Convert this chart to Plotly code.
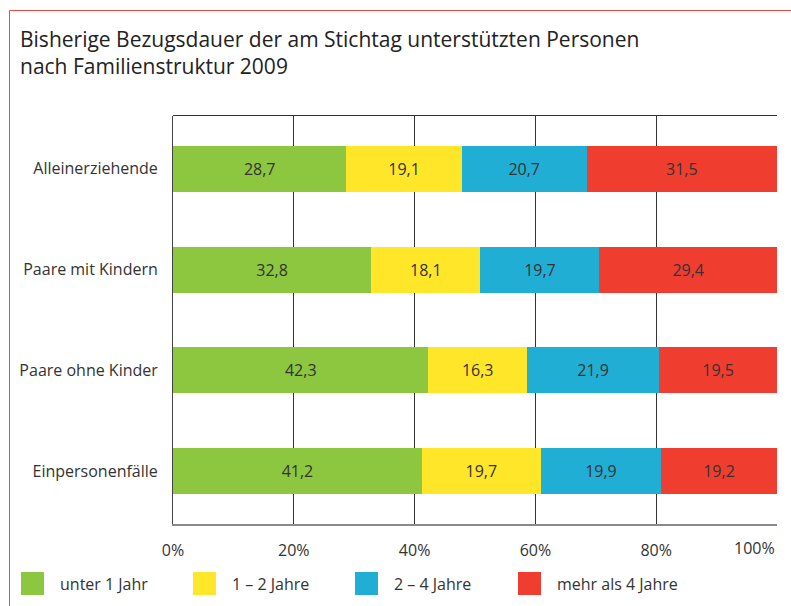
import plotly.graph_objects as go

categories = ["Alleinerziehende", "Paare mit Kindern", "Paare ohne Kinder", "Einpersonenfälle"]
series_names = ["unter 1 Jahr", "1 – 2 Jahre", "2 – 4 Jahre", "mehr als 4 Jahre"]
unter_1 = [28.7, 32.8, 42.3, 41.2]
jahre_1_2 = [19.1, 18.1, 16.3, 19.7]
jahre_2_4 = [20.7, 19.7, 21.9, 19.9]
mehr_4 = [31.5, 29.4, 19.5, 19.2]
tick_vals = [0, 20, 40, 60, 80, 100]
tick_text = ["0%", "20%", "40%", "60%", "80%", "100%"]

colors = ["#8dc63f", "#ffe629", "#21aed4", "#ef3e30"]
values = [unter_1, jahre_1_2, jahre_2_4, mehr_4]

W, H = 791, 606
L, R, T, B = 173, 14, 116, 82
pw, ph = W - L - R, H - T - B
FONT = "Open Sans"

fig = go.Figure()
for name, vals, col in zip(series_names, values, colors):
    fig.add_trace(go.Bar(
        y=categories, x=vals, name=name, orientation="h",
        marker=dict(color=col, line=dict(width=0)),
        width=0.455,
        text=vals, texttemplate="%{x:.1f}", textposition="inside",
        insidetextanchor="middle",
        textfont=dict(color="#333333", size=16),
        hoverinfo="x+y+name",
        showlegend=False,
    ))

# legend built by hand: colour squares + labels below the axis
legend_sq_x = [21, 193, 355, 518]
shapes = []
annotations = []
for sx, name, col in zip(legend_sq_x, series_names, colors):
    shapes.append(dict(type="rect", xref="paper", yref="paper",
                       x0=(sx - L) / pw, x1=(sx + 23 - L) / pw,
                       y0=(T + ph - 595) / ph, y1=(T + ph - 572) / ph,
                       fillcolor=col, line=dict(width=0)))
    annotations.append(dict(xref="paper", yref="paper",
                            x=(sx + 37 - L) / pw, xanchor="left",
                            y=(T + ph - 583.5) / ph, yanchor="middle",
                            text=name, showarrow=False,
                            font=dict(size=16, color="#333333")))

# 100% label sits flush right with the axis end
annotations.append(dict(xref="x", yref="paper", x=tick_vals[-1], xanchor="right",
                        y=(T + ph - 548) / ph, yanchor="middle",
                        text=tick_text[-1], showarrow=False,
                        font=dict(size=16, color="#333333")))

shapes += [
    # top frame line of plot area
    dict(type="line", xref="paper", yref="paper", x0=0, x1=1,
         y0=1 + 0.5 / ph, y1=1 + 0.5 / ph,
         line=dict(color="#333333", width=1)),
    # red outer border
    dict(type="rect", xref="paper", yref="paper",
         x0=(9.5 - L) / pw, x1=(W + 20 - L) / pw,
         y0=-1, y1=1 + (T - 10.5) / ph,
         line=dict(color="#ee4a3f", width=1), layer="below"),
]

fig.update_layout(
    width=W, height=H,
    barmode="stack",
    separators=",.",
    paper_bgcolor="white", plot_bgcolor="white",
    font=dict(family=FONT, color="#333333", size=16),
    margin=dict(l=L, r=R, t=T, b=B, autoexpand=False),
    title=dict(
        text="Bisherige Bezugsdauer der am Stichtag unterstützten Personen<br>nach Familienstruktur 2009",
        x=20 / W, xanchor="left", xref="container",
        y=1 - 47 / H, yanchor="top", yref="container",
        font=dict(size=21, color="#222222"),
    ),
    showlegend=False,
    xaxis=dict(
        range=[0, 100], tickvals=tick_vals[:-1], ticktext=tick_text[:-1],
        showgrid=True, gridcolor="#333333", gridwidth=1,
        zeroline=False,
        showline=True, linecolor="#8a8a8a", linewidth=2,
        ticks="", ticklabelstandoff=11,
        tickfont=dict(size=16, color="#333333"),
        fixedrange=True,
    ),
    yaxis=dict(
        range=[3.525, -0.525],
        showgrid=False, zeroline=False,
        showline=True, linecolor="#444444", linewidth=1,
        ticks="", ticklabelstandoff=11,
        tickfont=dict(size=16, color="#333333"),
        fixedrange=True,
    ),
    shapes=shapes,
    annotations=annotations,
)

fig.write_html("out.html", config={"displayModeBar": False},
               post_script="document.body.style.margin='0px';")
